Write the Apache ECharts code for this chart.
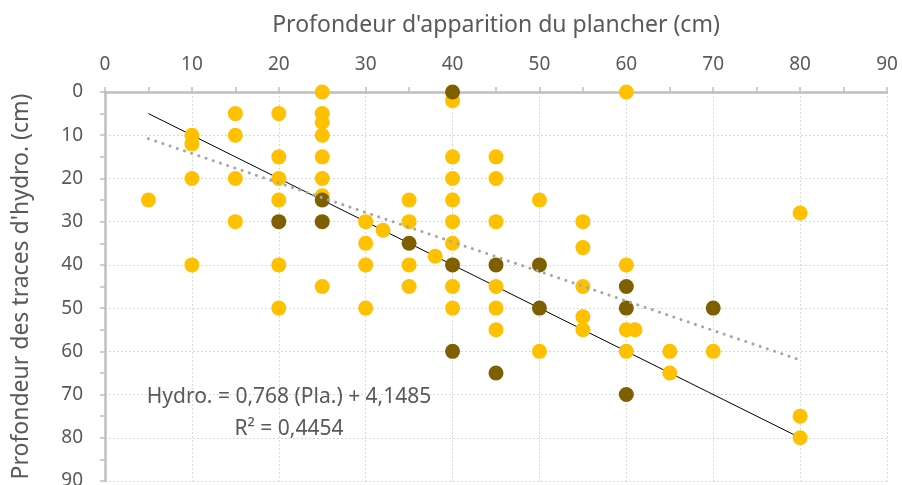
<!DOCTYPE html>
<html>
<head>
<meta charset="utf-8">
<script src="https://cdn.jsdelivr.net/npm/echarts@6/dist/echarts.min.js"></script>
<style>
  html, body { margin: 0; padding: 0; background: #fff; }
  #chart { width: 902px; height: 485px; }
</style>
</head>
<body>
<div id="chart"></div>
<script>
// points [plancher, hydro]
var yellowPoints = [
  [5, 25],
  [10, 10], [10, 12], [10, 20], [10, 40],
  [15, 5], [15, 10], [15, 20], [15, 30],
  [20, 5], [20, 15], [20, 20], [20, 25], [20, 40], [20, 50],
  [25, 0], [25, 5], [25, 7], [25, 10], [25, 15], [25, 20], [25, 24], [25, 45],
  [30, 30], [30, 35], [30, 40], [30, 50],
  [32, 32],
  [35, 25], [35, 30], [35, 40], [35, 45],
  [38, 38],
  [40, 2], [40, 15], [40, 20], [40, 25], [40, 30], [40, 35], [40, 45], [40, 50],
  [45, 15], [45, 20], [45, 30], [45, 45], [45, 50], [45, 55],
  [50, 25], [50, 60],
  [55, 30], [55, 36], [55, 45], [55, 52], [55, 55],
  [60, 0], [60, 40], [60, 55], [60, 60],
  [61, 55],
  [65, 60], [65, 65],
  [70, 60],
  [80, 28], [80, 75], [80, 80]
];
var darkPoints = [
  [20, 30], [25, 25], [25, 30], [35, 35],
  [40, 0], [40, 40], [40, 60],
  [45, 40], [45, 65],
  [50, 40], [50, 50],
  [60, 45], [60, 50], [60, 70],
  [70, 50]
];
var blackLine = [[5, 5], [80, 80]];
var trendLine = [[5, 10.8], [80, 62]];
var eqLines = ["Hydro. = 0,768 (Pla.) + 4,1485", "R² = 0,4454"];

var font = "Noto Sans";
var txt = "#595959";
var chart = echarts.init(document.getElementById("chart"));

var option = {
  animation: false,
  textStyle: { fontFamily: font },
  grid: { left: 105, right: 15, top: 92, bottom: 4, containLabel: false, outerBoundsMode: "none" },
  xAxis: {
    type: "value",
    position: "top",
    min: 0,
    max: 90,
    interval: 10,
    name: "Profondeur d'apparition du plancher (cm)",
    nameLocation: "middle",
    nameGap: 55,
    nameTextStyle: { color: txt, fontSize: 23, fontFamily: font },
    axisLine: { show: true, lineStyle: { color: "#BFBFBF", width: 2.5 } },
    axisTick: { show: true, length: 5, lineStyle: { color: "#BFBFBF", width: 1.5 } },
    minorTick: { show: true, splitNumber: 2, length: 5, lineStyle: { color: "#BFBFBF", width: 1.5 } },
    axisLabel: { color: txt, fontSize: 19, margin: 18, fontFamily: font },
    splitLine: { show: true, lineStyle: { color: "#D9D9D9", type: [2, 2], width: 1 } }
  },
  yAxis: {
    type: "value",
    inverse: true,
    min: 0,
    max: 90,
    interval: 10,
    name: "Profondeur des traces d'hydro. (cm)",
    nameLocation: "middle",
    nameGap: 72,
    nameTextStyle: { color: txt, fontSize: 23, fontFamily: font },
    axisLine: { show: true, lineStyle: { color: "#BFBFBF", width: 2.5 } },
    axisTick: { show: true, length: 5, lineStyle: { color: "#BFBFBF", width: 1.5 } },
    minorTick: { show: true, splitNumber: 2, length: 5, lineStyle: { color: "#BFBFBF", width: 1.5 } },
    axisLabel: { color: txt, fontSize: 19, margin: 22, fontFamily: font },
    splitLine: { show: true, lineStyle: { color: "#D9D9D9", type: [2, 2], width: 1 } }
  },
  series: [
    {
      type: "line",
      data: blackLine,
      showSymbol: false,
      symbol: "none",
      lineStyle: { color: "#000", width: 1 },
      z: 1
    },
    {
      type: "scatter",
      data: yellowPoints,
      symbolSize: 15,
      itemStyle: { color: "#FFC000", opacity: 1 },
      z: 2
    },
    {
      type: "scatter",
      data: darkPoints,
      symbolSize: 15,
      itemStyle: { color: "#7F6000", opacity: 1 },
      z: 3
    },
    {
      type: "line",
      data: trendLine,
      showSymbol: false,
      symbol: "none",
      lineStyle: { color: "#A6A6A6", width: 3, type: [0.1, 7.5], cap: "round" },
      z: 4
    }
  ],
  graphic: [
    {
      type: "text",
      x: 289,
      y: 381,
      style: {
        text: eqLines.join("\n"),
        fill: txt,
        fontSize: 21,
        fontFamily: font,
        align: "center",
        lineHeight: 32
      },
      z: 10
    }
  ]
};
chart.setOption(option);
</script>
</body>
</html>
